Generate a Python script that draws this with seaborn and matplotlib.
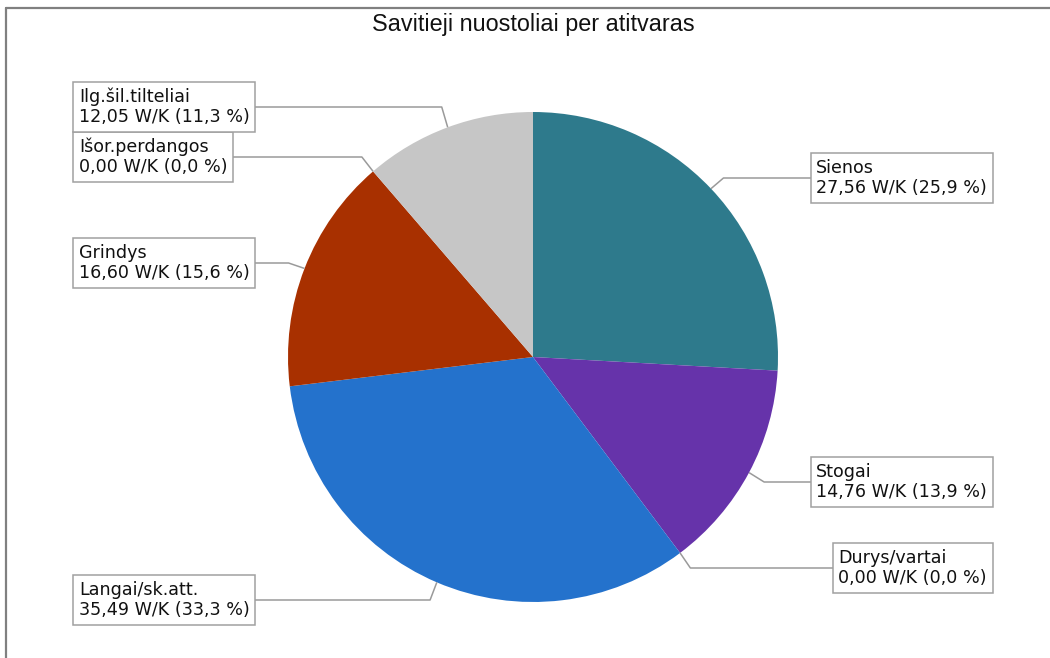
import matplotlib
matplotlib.use("Agg")
import matplotlib.pyplot as plt
import seaborn as sns
import numpy as np

# ---- data ----
categories = ["Sienos", "Stogai", "Durys/vartai", "Langai/sk.att.",
              "Grindys", "Išor.perdangos", "Ilg.šil.tilteliai"]
values = [27.56, 14.76, 0.00, 35.49, 16.60, 0.00, 12.05]
colors = ["#2E7A8C", "#6633AA", "#8FA9C9", "#2472CC", "#A83000", "#E0A000", "#C6C6C6"]
title = "Savitieji nuostoliai per atitvaras"

sns.set_theme(style="white")
plt.rcParams['font.family'] = ['DejaVu Sans']

W, H = 1050, 658
fig = plt.figure(figsize=(W / 100, H / 100), dpi=100)
ax = fig.add_axes([0, 0, 1, 1])

def Y(y):
    return H - y

cx, cy, r = 533, 357, 245
wedges, _ = ax.pie(values, colors=colors, startangle=90, counterclock=False,
                   center=(cx, Y(cy)), radius=r,
                   wedgeprops=dict(linewidth=0, antialiased=True))
ax.set_xlim(0, W)
ax.set_ylim(0, H)
ax.set_aspect('equal')
ax.axis('off')

# label box anchors (pixel coords): (x_anchor, y_center, side)
box_pos = {
    "Sienos": (993, 178, "right"),
    "Stogai": (993, 482, "right"),
    "Durys/vartai": (993, 568, "right"),
    "Langai/sk.att.": (73, 600, "left"),
    "Grindys": (73, 263, "left"),
    "Išor.perdangos": (73, 157, "left"),
    "Ilg.šil.tilteliai": (73, 107, "left"),
}
total = sum(values)
line_c = "#9a9a9a"
for w, cat, v in zip(wedges, categories, values):
    mid = np.deg2rad((w.theta1 + w.theta2) / 2)
    ex, ey = cx + r * np.cos(mid), Y(cy) + r * np.sin(mid)
    bx, by, side = box_pos[cat]
    byd = Y(by)
    kx = cx + (r * 1.07) * np.cos(mid)
    ax.plot([ex, kx, bx], [ey, byd, byd], color=line_c, lw=1.1, zorder=3,
            solid_capstyle='butt')
    pct = 100 * v / total
    txt = cat + "\n" + f"{v:.2f}".replace('.', ',') + " W/K (" + f"{pct:.1f}".replace('.', ',') + " %)"
    if side == "left":
        tx, ha = bx + 6, "left"
    else:
        tx, ha = bx - 6, "right"
    ax.text(tx, byd, txt, ha=ha, va="center", multialignment="left",
            fontsize=12.6, color="#111111", linespacing=1.15, zorder=5,
            bbox=dict(boxstyle="square,pad=0.32", fc="white", ec="#a0a0a0", lw=1.1))

ax.text(533, Y(25), title, ha="center", va="center", fontsize=16.8,
        family="Liberation Sans", color="#111111")

# frame (top and left)
ax.plot([6, W], [Y(8), Y(8)], color="#808080", lw=1.6, clip_on=False)
ax.plot([6, 6], [Y(8), 0], color="#808080", lw=1.6, clip_on=False)

fig.savefig("out.png", dpi=100)
